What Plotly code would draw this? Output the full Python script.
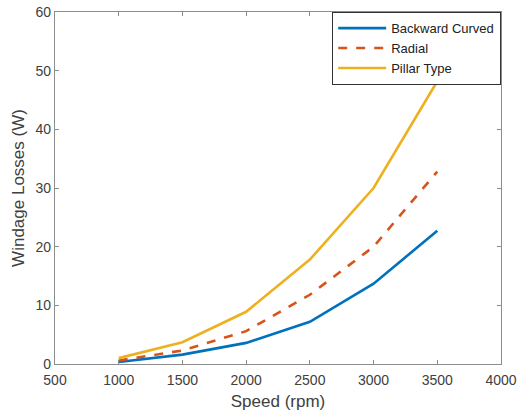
import plotly.graph_objects as go

speed = [1000, 1500, 2000, 2500, 3000, 3500]
backward_curved = [0.35, 1.6, 3.6, 7.2, 13.7, 22.7]
radial = [0.6, 2.3, 5.6, 11.8, 20.0, 32.8]
pillar_type = [1.0, 3.7, 8.9, 17.8, 30.0, 48.2]

x_ticks = [500, 1000, 1500, 2000, 2500, 3000, 3500, 4000]
y_ticks = [0, 10, 20, 30, 40, 50, 60]

font_family = "Liberation Sans, Arial, sans-serif"

fig = go.Figure()
fig.add_trace(go.Scatter(x=speed, y=backward_curved, mode="lines", name="Backward Curved",
                         line=dict(color="#0072BD", width=2.6)))
fig.add_trace(go.Scatter(x=speed, y=radial, mode="lines", name="Radial",
                         line=dict(color="#D95319", width=2.6, dash="dash")))
fig.add_trace(go.Scatter(x=speed, y=pillar_type, mode="lines", name="Pillar Type",
                         line=dict(color="#EDB120", width=2.6)))

axis_common = dict(
    showline=True, linecolor="#8c8c8c", linewidth=1.2, mirror="ticks",
    ticks="inside", ticklen=4, tickcolor="#8c8c8c",
    showgrid=False, zeroline=False, automargin=False,
    tickfont=dict(family=font_family, size=14, color="#404040"),
)

fig.update_layout(
    width=517, height=412,
    margin=dict(l=55, r=16, t=12, b=48),
    paper_bgcolor="white", plot_bgcolor="white",
    font=dict(family=font_family, color="#404040"),
    xaxis=dict(range=[500, 4000], tickvals=x_ticks, ticklabelstandoff=3,
               title=dict(text="Speed (rpm)", font=dict(size=17, color="#404040"), standoff=8),
               **axis_common),
    yaxis=dict(range=[0, 60], tickvals=y_ticks,
               title=dict(text="Windage Losses (W)", font=dict(size=17, color="#404040"), standoff=6),
               **axis_common),
    legend=dict(x=1, y=1, xanchor="right", yanchor="top",
                bgcolor="white", bordercolor="#333333", borderwidth=1.2,
                font=dict(family=font_family, size=13, color="#222222"),
                itemwidth=48, tracegroupgap=0),
    showlegend=True,
)

fig.write_html("out.html")
